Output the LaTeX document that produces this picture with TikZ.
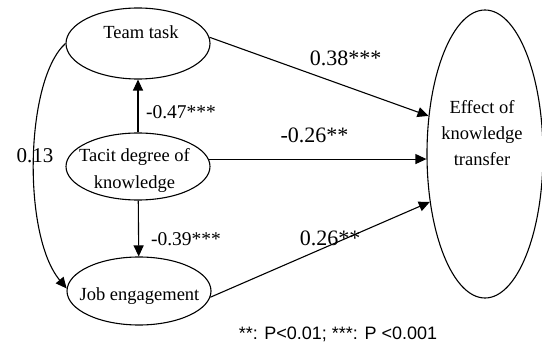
\documentclass[tikz,border=0pt]{standalone}
\usepackage{fontspec}
\setmainfont{Liberation Serif}
\newfontfamily\footfont{Liberation Sans}
\usetikzlibrary{shapes.geometric,arrows.meta}
\begin{document}
\begin{tikzpicture}[x=1pt,y=-1pt,
  ell/.style={draw, ellipse, line width=1.1pt, inner sep=0pt},
  arr/.style={line width=1.1pt, -{Triangle[length=11pt,width=10pt]}},
  txt/.style={font=\fontsize{18.5}{27}\selectfont, inner sep=0pt, anchor=base},
  coef/.style={font=\fontsize{22}{26}\selectfont, inner sep=0pt, anchor=base},
  coefs/.style={font=\fontsize{19.5}{24}\selectfont, inner sep=0pt, anchor=base},
  note/.style={font=\footfont\fontsize{18}{21}\selectfont, inner sep=0pt, anchor=base}]
\useasboundingbox (0,0) rectangle (542,345);
% ellipses
\node[ell, minimum width=144pt, minimum height=71pt] (team) at (138,43.5) {};
\node[ell, minimum width=144pt, minimum height=67pt] (tacit) at (138,166.5) {};
\node[ell, minimum width=144pt, minimum height=68pt] (job) at (139,291) {};
\node[ell, minimum width=116pt, minimum height=288pt] (effect) at (485,154) {};
% texts
\node[txt] (teamtxt) at (141,39) {Team task};
\node[txt, align=center] (tacittxt) at (134.5,189) {Tacit degree of\\knowledge};
\node[txt] (jobtxt) at (139.5,300) {Job engagement};
\node[txt, align=center, font=\fontsize{18.5}{26.5}\selectfont] (efftxt) at (482,166) {Effect of\\knowledge\\transfer};
% connectors
\draw[arr] (tacit) -- (team);
\draw[arr] (tacit) -- (job);
\draw[arr] (team.5) -- (effect.146);
\draw[arr] (tacit.6) -- (tacit.6 -| effect.west);
\draw[arr] (job.-5) -- (effect.221);
\draw[arr] (team.west) .. controls (25,80) and (22,235) .. (job.178);
% coefficients
\node[coef] (c1) at (345.5,66) {0.38***};
\node[coef] (c2) at (314.5,143) {-0.26**};
\node[coefs] (c3) at (181,119) {-0.47***};
\node[coef, font=\fontsize{21}{25}\selectfont] (c4) at (35,163) {0.13};
\node[coefs] (c5) at (186,246) {-0.39***};
\node[coef] (c6) at (330,246) {0.26**};
\node[note] (fn) at (338,339) {**: P<0.01; ***: P <0.001};
\end{tikzpicture}
\end{document}
